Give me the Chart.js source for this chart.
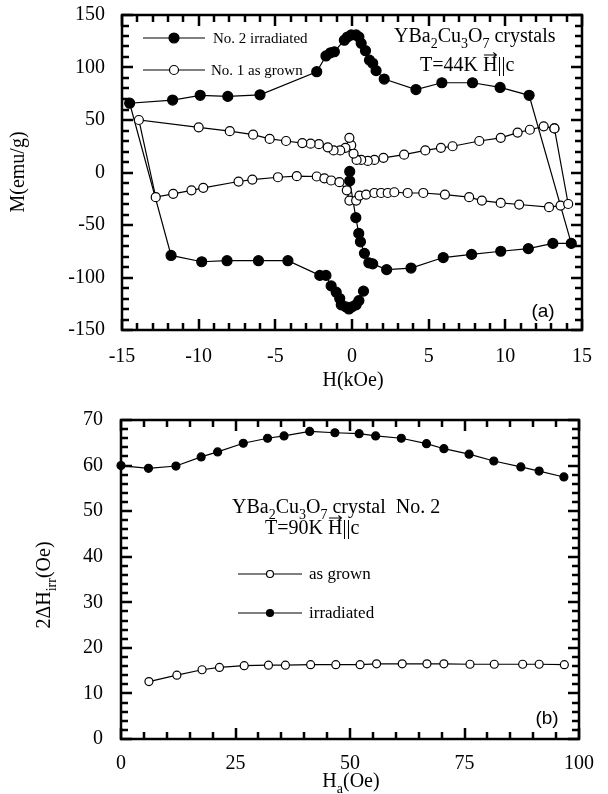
<!DOCTYPE html>
<html>
<head>
<meta charset="utf-8">
<script src="https://cdn.jsdelivr.net/npm/chart.js@4.4.0/dist/chart.umd.min.js"></script>
<style>
  html, body { margin: 0; padding: 0; background: #fff; }
  #page { position: relative; width: 608px; height: 794px; }
  .panel { position: absolute; left: 0; width: 608px; }
</style>
</head>
<body>
<div id="page">
  <div class="panel" style="top:0;height:390px"><canvas id="loop"></canvas></div>
  <div class="panel" style="top:390px;height:404px"><canvas id="irr"></canvas></div>
</div>
<script>
const SERIF = '"Liberation Serif", "Times New Roman", serif';
const SANS = '"Liberation Sans", Arial, sans-serif';

// panel (a): M(H) loops at 44 K
const hIrr = [-0.15, -0.15, 0.25, 0.44, 0.55, 0.81, 1.1, 1.35, 2.26, 3.85, 5.95, 7.8, 9.7, 11.5, 13.1, 14.3,
  11.55, 9.66, 7.86, 5.86, 4.17, 2.1, 1.57, 1.35, 1.14, 0.88, 0.6, 0.45, 0.27, -0.05, -0.3, -0.5, -1.15, -1.4, -1.7, -2.3, -6.0, -8.1, -9.9, -11.7, -14.5,
  -11.8, -9.8, -8.15, -6.1, -4.18, -2.1, -1.7, -1.36, -1.03, -0.8, -0.7, -0.4, -0.2, 0.0, 0.27, 0.45, 0.75];
const mIrr = [1, -8, -43, -58, -66, -77, -86, -87, -92.5, -91, -81, -78, -75, -72.5, -67.5, -67.5,
  73.5, 81, 85.5, 85.5, 79, 89, 97, 104, 107, 116, 123, 129, 131, 131, 129, 126, 115, 114, 111, 96, 74, 72.5, 73.5, 69, 66,
  -79, -85, -84, -84, -84, -98, -98, -108, -114, -120, -126, -128, -130, -128, -126, -122, -113];

const hGrown = [13.2, 12.5, 11.6, 10.8, 9.7, 8.3, 6.56, 5.8, 4.78, 3.4, 2.05, 1.46, 1.03, 0.6, 0.3, 0.1, -0.05, -0.17, -0.43, -0.77, -1.2, -1.58, -2.16, -2.7, -3.24, -4.3, -5.37, -6.45, -7.97, -10.0, -13.9,
  -12.8, -11.66, -10.47, -9.7, -7.4, -6.5, -4.83, -3.6, -2.3, -1.8, -1.36, -0.82, -0.34, -0.17, 0.27, 0.49, 0.92, 1.46, 1.9, 2.33, 2.76, 3.63, 4.65, 6.06, 7.64, 8.47, 9.7, 10.9, 12.85, 13.6, 14.1, 13.2];
const mGrown = [42, 44, 40.7, 38, 33, 30, 25, 23.5, 21, 17, 14, 12, 11, 12, 12, 18, 26, 33, 23.5, 21, 21, 24, 27, 27.5, 28, 30, 32, 36, 39.4, 43, 50,
  -23.5, -20.3, -17, -14.6, -8.6, -6.7, -4.5, -3.5, -3.8, -5.5, -7.6, -9.2, -17, -26.7, -26.7, -22, -21, -19.5, -19.5, -19.5, -18.8, -19.5, -19.5, -21, -23.5, -26.7, -29, -30.5, -33, -31.5, -30, 42];

const hTicks = [-15, -10, -5, 0, 5, 10, 15];
const mTicks = [-150, -100, -50, 0, 50, 100, 150];

// panel (b): 2 dH_irr vs Ha at 90 K
const haIrr = [0, 6.0, 12.0, 17.5, 21.1, 26.7, 32.0, 35.6, 41.2, 46.7, 52.0, 55.6, 61.2, 66.7, 70.5, 76.0, 81.4, 87.3, 91.3, 96.7];
const dhIrr = [60.0, 59.4, 59.9, 61.9, 63.0, 64.9, 66.0, 66.5, 67.5, 67.2, 67.0, 66.5, 66.0, 64.8, 63.7, 62.5, 61.0, 59.7, 58.8, 57.5];
const haGrown = [6.1, 12.2, 17.7, 21.5, 26.9, 32.2, 35.9, 41.4, 46.9, 52.2, 55.8, 61.4, 66.8, 70.5, 76.2, 81.5, 87.7, 91.3, 96.8];
const dhGrown = [12.6, 14.0, 15.2, 15.7, 16.1, 16.2, 16.2, 16.3, 16.3, 16.3, 16.5, 16.5, 16.5, 16.5, 16.4, 16.4, 16.4, 16.4, 16.3];

const haTicks = [0, 25, 50, 75, 100];
const dhTicks = [0, 10, 20, 30, 40, 50, 60, 70];

// minor tick positions (inward on all four sides)
const hMinor = [], mMinor = [], haMinor = [], dhMinor = [];
for (let v = -15; v <= 15; v += 1) hMinor.push(v);
for (let v = -150; v <= 150; v += 10) mMinor.push(v);
for (let v = 0; v <= 100; v += 5) haMinor.push(v);
for (let v = 0; v <= 70; v += 2) dhMinor.push(v);

function pts(xs, ys) {
  return xs.map((v, i) => ({ x: v, y: ys[i] }));
}

// text with subscripts ('s') and a vector arrow ('v')
function rich(ctx, x, y, parts, size, align) {
  const sub = Math.round(size * 0.68);
  let w = 0;
  const widths = parts.map(([t, k]) => {
    ctx.font = (k === 's' ? sub : size) + 'px ' + SERIF;
    const m = ctx.measureText(t).width;
    w += m;
    return m;
  });
  let cx = align === 'center' ? x - w / 2 : x;
  ctx.textAlign = 'left';
  ctx.textBaseline = 'alphabetic';
  parts.forEach(([t, k], i) => {
    ctx.font = (k === 's' ? sub : size) + 'px ' + SERIF;
    ctx.fillText(t, cx, y + (k === 's' ? size * 0.3 : 0));
    if (k === 'v') {
      const ay = y - size * 0.8;
      ctx.beginPath();
      ctx.moveTo(cx + 1, ay);
      ctx.lineTo(cx + widths[i] - 1, ay);
      ctx.moveTo(cx + widths[i] - 4, ay - 2.5);
      ctx.lineTo(cx + widths[i] - 1, ay);
      ctx.lineTo(cx + widths[i] - 4, ay + 2.5);
      ctx.lineWidth = 1.1;
      ctx.stroke();
    }
    cx += widths[i];
  });
}

function legendRow(ctx, x0, x1, y, r, filled, label, tx, size) {
  ctx.beginPath();
  ctx.moveTo(x0, y);
  ctx.lineTo(x1, y);
  ctx.lineWidth = 1.2;
  ctx.stroke();
  const mx = (x0 + x1) / 2;
  ctx.beginPath();
  ctx.arc(mx, y, r, 0, Math.PI * 2);
  ctx.fillStyle = filled ? '#000' : '#fff';
  ctx.fill();
  ctx.stroke();
  ctx.fillStyle = '#000';
  ctx.font = size + 'px ' + SERIF;
  ctx.textAlign = 'left';
  ctx.textBaseline = 'middle';
  ctx.fillText(label, tx, y + 1);
}

function drawTicks(ctx, chart, xs, ys, xMajor, yMajor) {
  const a = chart.chartArea;
  const sx = chart.scales.x, sy = chart.scales.y;
  ctx.beginPath();
  xs.forEach(v => {
    const p = Math.round(sx.getPixelForValue(v));
    const len = v % xMajor === 0 ? 11 : 7;
    ctx.moveTo(p, a.bottom);
    ctx.lineTo(p, a.bottom - len);
    ctx.moveTo(p, a.top);
    ctx.lineTo(p, a.top + len);
  });
  ys.forEach(v => {
    const p = Math.round(sy.getPixelForValue(v));
    const len = v % yMajor === 0 ? 11 : 7;
    ctx.moveTo(a.left, p);
    ctx.lineTo(a.left + len, p);
    ctx.moveTo(a.right, p);
    ctx.lineTo(a.right - len, p);
  });
  ctx.strokeStyle = '#000';
  ctx.lineWidth = 2.5;
  ctx.stroke();
  ctx.lineWidth = 2.5;
  ctx.strokeRect(a.left, a.top, a.right - a.left, a.bottom - a.top);
}

function axis(min, max, tickList, pad, size) {
  return {
    type: 'linear', min: min, max: max,
    afterBuildTicks(s) { s.ticks = tickList.map(v => ({ value: v })); },
    ticks: { color: '#000', padding: pad, maxRotation: 0, font: { family: SERIF, size: 20 } },
    grid: { display: false, drawTicks: false },
    border: { display: false },
    afterFit(s) {
      if (s.isHorizontal()) s.height = size; else s.width = size;
      s.paddingLeft = 0; s.paddingRight = 0; s.paddingTop = 0; s.paddingBottom = 0;
    }
  };
}

function series(label, data, filled, r) {
  return {
    label: label,
    data: data,
    showLine: true,
    borderColor: '#000',
    borderWidth: 1.2,
    pointRadius: r,
    pointBorderWidth: 1.2,
    pointBorderColor: '#000',
    pointBackgroundColor: filled ? '#000' : '#fff',
    tension: 0,
    clip: 10
  };
}

const loopText = {
  id: 'loopText',
  afterDraw(chart) {
    const ctx = chart.ctx;
    const a = chart.chartArea;
    ctx.save();
    drawTicks(ctx, chart, hMinor, mMinor, 5, 50);
    ctx.strokeStyle = '#000';
    legendRow(ctx, a.left + 21, a.left + 83, 38, 5, true, 'No. 2 irradiated', a.left + 91, 15);
    legendRow(ctx, a.left + 21, a.left + 83, 70, 4.5, false, 'No. 1 as grown', a.left + 89, 15);
    ctx.fillStyle = '#000';
    rich(ctx, 394, 42, [['YBa', 'n'], ['2', 's'], ['Cu', 'n'], ['3', 's'], ['O', 'n'], ['7', 's'], [' crystals', 'n']], 20, 'left');
    rich(ctx, 420, 71, [['T=44K ', 'n'], ['H', 'v'], ['||c', 'n']], 20, 'left');
    ctx.font = '19px ' + SANS;
    ctx.textAlign = 'center';
    ctx.textBaseline = 'middle';
    ctx.fillText('(a)', 543, 312);
    rich(ctx, 353, 386, [['H(kOe)', 'n']], 20, 'center');
    ctx.save();
    ctx.translate(24, 172);
    ctx.rotate(-Math.PI / 2);
    rich(ctx, 0, 0, [['M(emu/g)', 'n']], 20, 'center');
    ctx.restore();
    ctx.restore();
  }
};

const irrText = {
  id: 'irrText',
  afterDraw(chart) {
    const ctx = chart.ctx;
    ctx.save();
    drawTicks(ctx, chart, haMinor, dhMinor, 25, 10);
    ctx.strokeStyle = '#000';
    ctx.fillStyle = '#000';
    rich(ctx, 232, 123, [['YBa', 'n'], ['2', 's'], ['Cu', 'n'], ['3', 's'], ['O', 'n'], ['7', 's'], [' crystal  No. 2', 'n']], 20, 'left');
    rich(ctx, 265, 144, [['T=90K ', 'n'], ['H', 'v'], ['||c', 'n']], 20, 'left');
    legendRow(ctx, 238, 302, 184, 3.5, false, 'as grown', 309, 17);
    legendRow(ctx, 238, 302, 223, 3.5, true, 'irradiated', 309, 17);
    ctx.fillStyle = '#000';
    ctx.font = '19px ' + SANS;
    ctx.textAlign = 'center';
    ctx.textBaseline = 'middle';
    ctx.fillText('(b)', 547, 329);
    rich(ctx, 351, 397, [['H', 'n'], ['a', 's'], ['(Oe)', 'n']], 20, 'center');
    ctx.save();
    ctx.translate(50, 195);
    ctx.rotate(-Math.PI / 2);
    rich(ctx, 0, 0, [['2ΔH', 'n'], ['irr', 's'], ['(Oe)', 'n']], 20, 'center');
    ctx.restore();
    ctx.restore();
  }
};

// panel (a)
new Chart(document.getElementById('loop'), {
  type: 'scatter',
  data: {
    datasets: [
      series('No. 1 as grown', pts(hGrown, mGrown), false, 4.5),
      series('No. 2 irradiated', pts(hIrr, mIrr), true, 5)
    ]
  },
  options: {
    responsive: true,
    maintainAspectRatio: false,
    animation: false,
    events: [],
    layout: { padding: { top: 15, right: 26, left: 0, bottom: 0 } },
    plugins: { legend: { display: false }, tooltip: { enabled: false } },
    scales: {
      x: axis(-15, 15, hTicks, 15, 60),
      y: axis(-150, 150, mTicks, 17, 122)
    }
  },
  plugins: [loopText]
});

// panel (b)
new Chart(document.getElementById('irr'), {
  type: 'scatter',
  data: {
    datasets: [
      series('as grown', pts(haGrown, dhGrown), false, 4),
      series('irradiated', pts(haIrr, dhIrr), true, 4)
    ]
  },
  options: {
    responsive: true,
    maintainAspectRatio: false,
    animation: false,
    events: [],
    layout: { padding: { top: 30, right: 29, left: 0, bottom: 0 } },
    plugins: { legend: { display: false }, tooltip: { enabled: false } },
    scales: {
      x: axis(0, 100, haTicks, 13, 55),
      y: axis(0, 70, dhTicks, 18, 121)
    }
  },
  plugins: [irrText]
});
</script>
</body>
</html>
